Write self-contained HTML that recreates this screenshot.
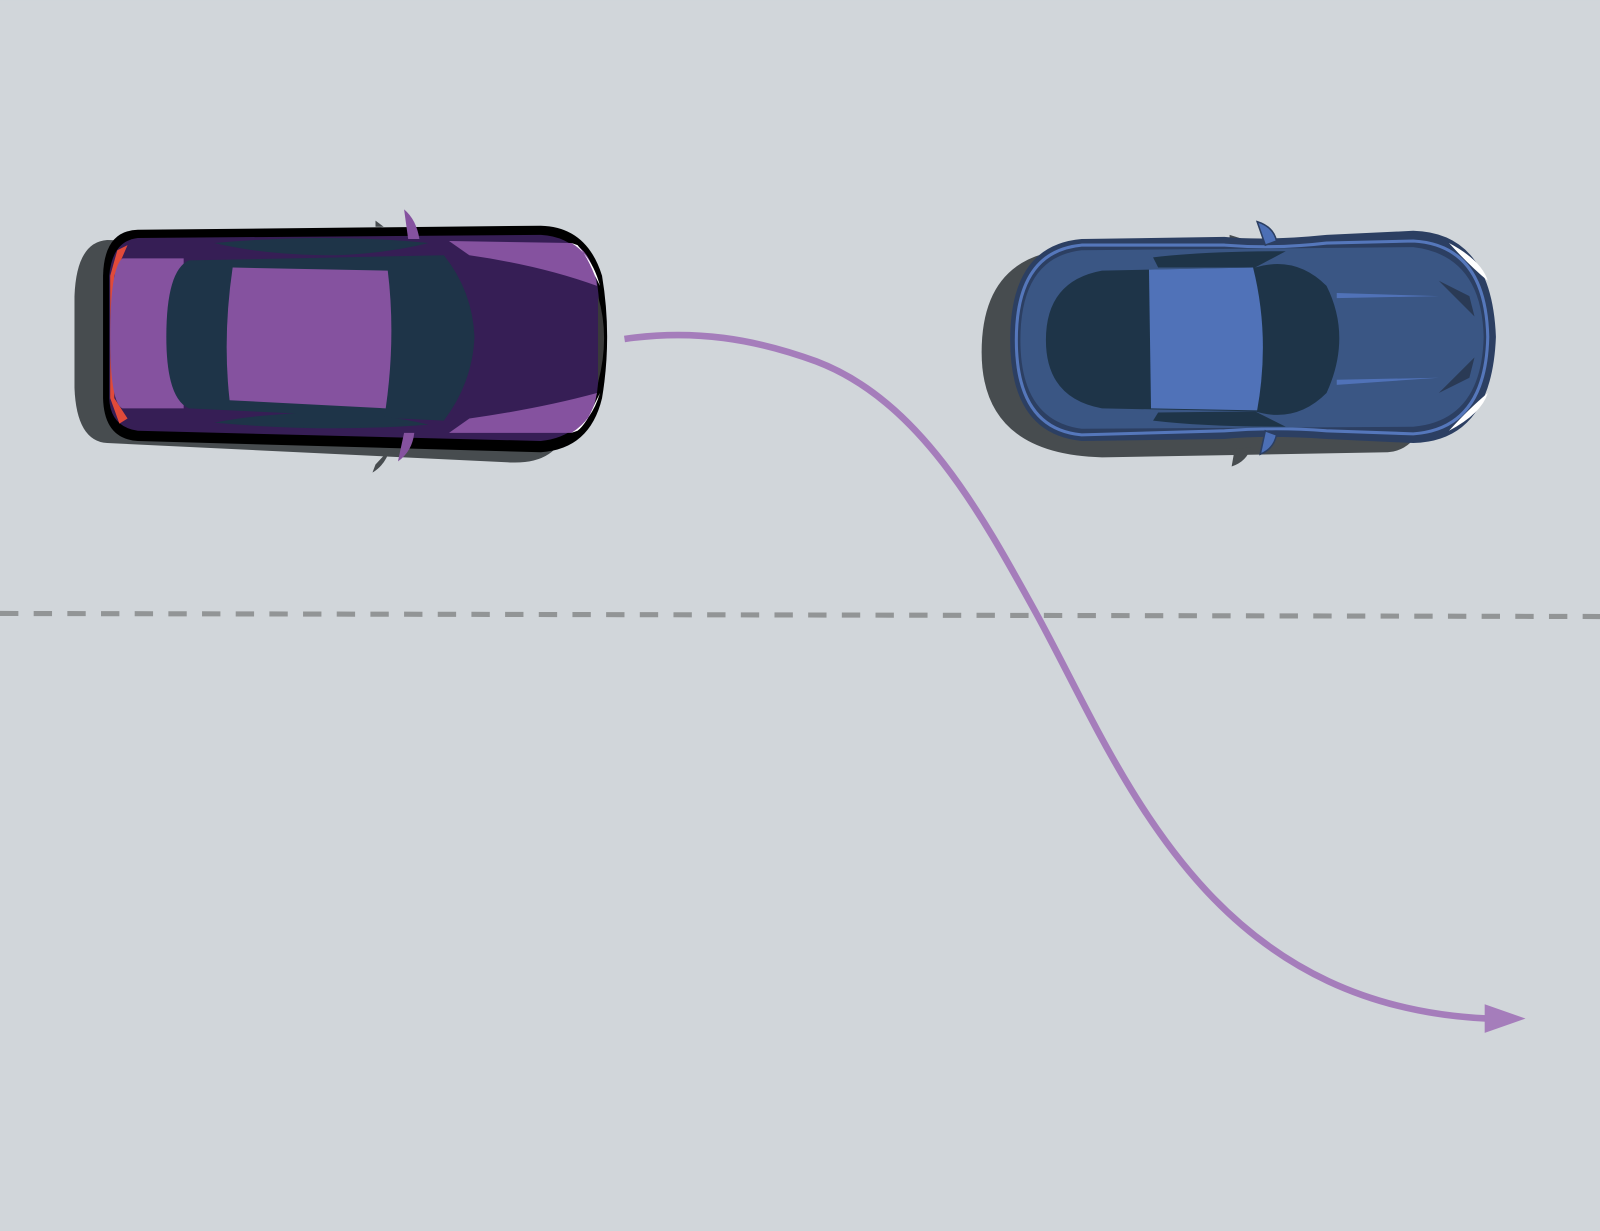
<!DOCTYPE html>
<html><head><meta charset="utf-8"><style>html,body{margin:0;padding:0;background:#d1d6da}svg{display:block}</style></head>
<body>
<svg width="1600" height="1231" viewBox="0 0 1568 1206" xmlns="http://www.w3.org/2000/svg">
<rect width="1568" height="1206" fill="#d1d6da"/>
<line x1="0" y1="601" x2="1568" y2="604" stroke="#929596" stroke-width="5" stroke-dasharray="18 15"/>
<!-- purple car -->
<g>
 <path d="M105,235 L500,245 Q560,250 560,340 L555,420 Q545,455 500,453 L105,434 Q75,432 73,380 L73,290 Q75,237 105,235Z" fill="#474c4f"/>
 <path d="M368,455 L365,463 Q378,455 382,440Z" fill="#474c4f"/>
 <path d="M135,225 L530,221 Q575,222 590,270 Q600,330 590,390 Q578,440 530,443 L135,432 Q102,430 101,390 L101,270 Q102,226 135,225Z" fill="#000"/>
 <path d="M135,233 L530,230 Q570,232 585,275 Q592,330 585,385 Q572,428 530,432 L135,422 Q108,418 107,390 L107,270 Q110,236 135,233Z" fill="#361e55"/>
 <path d="M115,245 L108,270 L108,390 L117,415 L125,410 L112,390 L112,270 L125,240Z" fill="#e04a3a"/>
 <path d="M120,253 L180,253 L180,400 L120,400 Q108,395 108,330 Q108,262 120,253Z" fill="#85529f"/>
 <path d="M185,255 L435,250 Q463,285 465,330 Q463,375 435,412 L185,400 Q163,390 163,330 Q163,265 185,255Z" fill="#1e3448"/>
 <path d="M228,262 L380,265 Q388,330 378,400 L225,392 Q218,330 228,262Z" fill="#85529f"/>
 <path d="M210,238 Q260,250 330,250 Q380,248 420,238 Q320,228 210,238Z" fill="#1e3448"/>
 <path d="M210,414 Q260,404 330,404 Q380,406 420,416 Q320,424 210,414Z" fill="#1e3448"/>
 <path d="M440,236 L560,238 Q580,245 585,280 Q530,260 460,250Z" fill="#85529f"/>
 <path d="M440,424 L560,424 Q580,415 585,385 Q530,400 460,410Z" fill="#85529f"/>
 <path d="M560,238 Q580,250 588,280 L583,270 Q575,250 566,240Z" fill="#fff"/>
 <path d="M560,424 Q580,412 588,385 L583,395 Q575,415 566,422Z" fill="#fff"/>
 <path d="M586,290 Q598,330 586,375Z" fill="#3a3a3a"/>
 <path d="M396,205 Q408,215 411,234 L400,234Z" fill="#85529f"/>
 <path d="M396,424 L406,424 Q404,442 390,452Z" fill="#85529f"/>
 <path d="M368,216 L376,222 L368,222Z" fill="#474c4f"/>
</g>
<!-- blue car -->
<g>
 <path d="M1040,245 L1360,248 Q1405,250 1405,345 Q1405,440 1360,443 L1080,448 Q962,445 962,345 Q962,255 1040,245Z" fill="#474c4f"/>
 <path d="M1210,440 L1207,457 Q1222,452 1226,438Z" fill="#474c4f"/>
 <path d="M1205,230 L1218,234 L1205,236Z" fill="#474c4f"/>
 <path d="M1060,234 L1200,232 Q1240,236 1300,230 L1385,226 Q1462,228 1466,330 Q1462,432 1385,434 L1300,430 Q1240,426 1200,430 L1060,432 Q990,425 990,333 Q990,240 1060,234Z" fill="#2c3f62"/>
 <path d="M1060,240 L1200,240 Q1250,244 1300,238 L1385,236 Q1456,240 1458,330 Q1456,420 1385,425 L1300,422 Q1250,418 1200,422 L1060,426 Q996,420 996,333 Q996,246 1060,240Z" fill="none" stroke="#5577bb" stroke-width="3"/>
 <path d="M1060,245 L1385,242 Q1452,250 1454,330 Q1452,412 1385,418 L1060,420 Q1000,412 1000,333 Q1000,252 1060,245Z" fill="#3a5684"/>
 <path d="M1080,265 L1230,262 Q1270,250 1300,280 Q1325,330 1300,385 Q1270,415 1230,403 L1080,400 Q1025,390 1025,333 Q1025,275 1080,265Z" fill="#1e3448"/>
 <path d="M1126,264 L1228,262 Q1245,330 1232,402 L1128,400Z" fill="#5072b8"/>
 <path d="M1130,252 Q1180,246 1260,246 L1230,262 L1135,262Z" fill="#1e3448"/>
 <path d="M1130,412 Q1180,418 1260,418 L1230,403 L1135,404Z" fill="#1e3448"/>
 <path d="M1420,238 Q1452,255 1458,275 Q1440,260 1420,238Z" fill="#fff"/>
 <path d="M1420,422 Q1452,405 1458,385 Q1440,400 1420,422Z" fill="#fff"/>
 <path d="M1310,287 L1410,290 L1310,292Z" fill="#5072b8"/>
 <path d="M1310,372 L1410,370 L1310,377Z" fill="#5072b8"/>
 <path d="M1410,275 L1445,310 L1440,290Z" fill="#2a3a55"/>
 <path d="M1410,385 L1445,350 L1440,370Z" fill="#2a3a55"/>
 <path d="M1232,217 Q1248,222 1251,236 L1240,240Z" fill="#4c6fb5" stroke="#2c3f62" stroke-width="1.5"/>
 <path d="M1240,422 L1251,426 Q1248,440 1235,445Z" fill="#4c6fb5" stroke="#2c3f62" stroke-width="1.5"/>
</g>
<!-- trajectory -->
<path d="M612,332 C680,322 740,332 800,354 C900,392 960,500 1015,600 C1100,755 1180,985 1458,998" fill="none" stroke="#a57dbb" stroke-width="6.5"/>
<polygon points="1455,984 1495,998 1455,1012" fill="#a57dbb"/>
</svg>
</body></html>
